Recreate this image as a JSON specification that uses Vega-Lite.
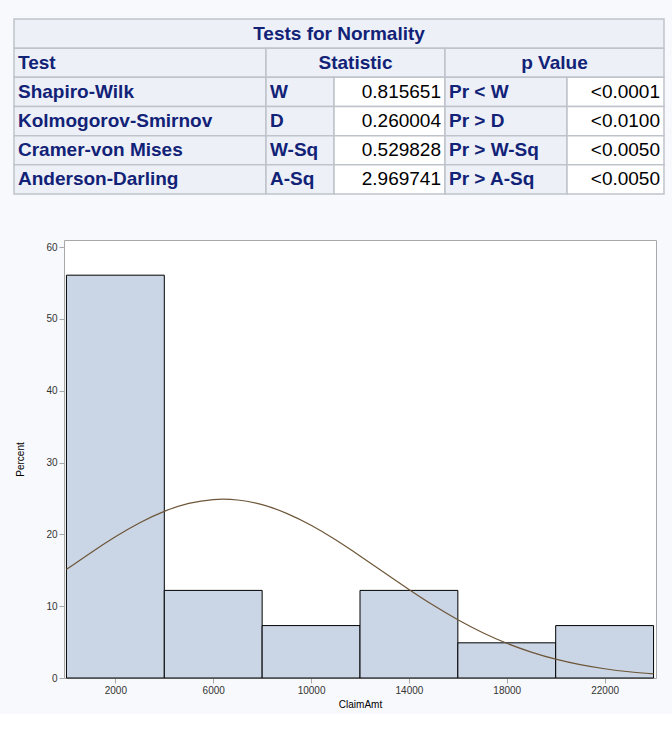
{
  "$schema": "https://vega.github.io/schema/vega-lite/v6.json",
  "background": "#F8F9FC",
  "padding": {"left": 13, "top": 18, "right": 8, "bottom": 4},
  "spacing": 44,
  "config": {"font": "Liberation Sans", "view": {"stroke": null}},
  "vconcat": [
    {
      "width": 592,
      "height": 175,
      "data": {
        "values": [
          {"row": 0, "col": 0, "c0": 0, "c1": 650, "text": "Tests for Normality"},
          {"row": 1, "col": 0, "c0": 0, "c1": 252, "text": "Test"},
          {"row": 1, "col": 1, "c0": 252, "c1": 431, "text": "Statistic"},
          {"row": 1, "col": 3, "c0": 431, "c1": 650, "text": "p Value"},
          {"row": 2, "col": 0, "c0": 0, "c1": 252, "text": "Shapiro-Wilk"},
          {"row": 2, "col": 1, "c0": 252, "c1": 320, "text": "W"},
          {"row": 2, "col": 2, "c0": 320, "c1": 431, "text": "0.815651"},
          {"row": 2, "col": 3, "c0": 431, "c1": 553, "text": "Pr < W"},
          {"row": 2, "col": 4, "c0": 553, "c1": 650, "text": "<0.0001"},
          {"row": 3, "col": 0, "c0": 0, "c1": 252, "text": "Kolmogorov-Smirnov"},
          {"row": 3, "col": 1, "c0": 252, "c1": 320, "text": "D"},
          {"row": 3, "col": 2, "c0": 320, "c1": 431, "text": "0.260004"},
          {"row": 3, "col": 3, "c0": 431, "c1": 553, "text": "Pr > D"},
          {"row": 3, "col": 4, "c0": 553, "c1": 650, "text": "<0.0100"},
          {"row": 4, "col": 0, "c0": 0, "c1": 252, "text": "Cramer-von Mises"},
          {"row": 4, "col": 1, "c0": 252, "c1": 320, "text": "W-Sq"},
          {"row": 4, "col": 2, "c0": 320, "c1": 431, "text": "0.529828"},
          {"row": 4, "col": 3, "c0": 431, "c1": 553, "text": "Pr > W-Sq"},
          {"row": 4, "col": 4, "c0": 553, "c1": 650, "text": "<0.0050"},
          {"row": 5, "col": 0, "c0": 0, "c1": 252, "text": "Anderson-Darling"},
          {"row": 5, "col": 1, "c0": 252, "c1": 320, "text": "A-Sq"},
          {"row": 5, "col": 2, "c0": 320, "c1": 431, "text": "2.969741"},
          {"row": 5, "col": 3, "c0": 431, "c1": 553, "text": "Pr > A-Sq"},
          {"row": 5, "col": 4, "c0": 553, "c1": 650, "text": "<0.0050"}
        ]
      },
      "transform": [{"calculate": "(datum.c0 + datum.c1) / 2", "as": "mid"}],
      "encoding": {
        "y": {"field": "row", "type": "ordinal", "axis": null, "scale": {"paddingInner": 0, "paddingOuter": 0}}
      },
      "layer": [
        {
          "mark": {"type": "rect", "stroke": "#BFC3CB", "strokeWidth": 1.5},
          "encoding": {
            "x": {"field": "c0", "type": "quantitative", "axis": null, "scale": {"domain": [50, 642], "nice": false, "zero": false}},
            "x2": {"field": "c1"},
            "fill": {
              "condition": {"test": "datum.row > 1 && (datum.col == 2 || datum.col == 4)", "value": "#FFFFFF"},
              "value": "#EDF0F7"
            }
          }
        },
        {
          "transform": [{"filter": "datum.row < 2 && datum.col > 0 || datum.row == 0"}],
          "mark": {"type": "text", "align": "center", "fontSize": 19, "fontWeight": "bold", "color": "#112277"},
          "encoding": {
            "x": {"field": "mid", "type": "quantitative"},
            "text": {"field": "text"}
          }
        },
        {
          "transform": [{"filter": "datum.row > 0 && (datum.col == 0 || datum.col == 1 || datum.col == 3) && !(datum.row == 1 && datum.col > 0)"}],
          "mark": {"type": "text", "align": "left", "dx": 4, "fontSize": 19, "fontWeight": "bold", "color": "#112277"},
          "encoding": {
            "x": {"field": "c0", "type": "quantitative"},
            "text": {"field": "text"}
          }
        },
        {
          "transform": [{"filter": "datum.row > 1 && (datum.col == 2 || datum.col == 4)"}],
          "mark": {"type": "text", "align": "right", "dx": -4, "fontSize": 19, "color": "#000000"},
          "encoding": {
            "x": {"field": "c1", "type": "quantitative"},
            "text": {"field": "text"}
          }
        }
      ]
    },
    {
      "width": 592,
      "height": 438,
      "view": {"stroke": "#A8A8A8", "fill": "#FFFFFF"},
      "layer": [
        {
          "data": {
            "values": [
              {"start": 0, "end": 4000, "pct": 56.1},
              {"start": 4000, "end": 8000, "pct": 12.2},
              {"start": 8000, "end": 12000, "pct": 7.3},
              {"start": 12000, "end": 16000, "pct": 12.2},
              {"start": 16000, "end": 20000, "pct": 4.9},
              {"start": 20000, "end": 24000, "pct": 7.3}
            ]
          },
          "mark": {"type": "rect", "fill": "#CAD5E5", "stroke": "#000000", "strokeWidth": 1},
          "encoding": {
            "x": {
              "field": "start", "type": "quantitative", "title": "ClaimAmt",
              "scale": {"domain": [-100, 24100], "nice": false, "zero": false},
              "axis": {"values": [2000, 6000, 10000, 14000, 18000, 22000], "format": "d", "grid": false, "labelFontSize": 10, "titleFontSize": 10, "titleFontWeight": "normal", "labelColor": "#333333", "tickColor": "#A8A8A8", "domain": false}
            },
            "x2": {"field": "end"},
            "y": {
              "field": "pct", "type": "quantitative", "title": "Percent",
              "scale": {"domain": [0, 61], "nice": false},
              "axis": {"values": [0, 10, 20, 30, 40, 50, 60], "grid": false, "labelFontSize": 10, "titleFontSize": 10, "titleFontWeight": "normal", "labelColor": "#333333", "tickColor": "#A8A8A8", "domain": false, "titlePadding": 20}
            },
            "y2": {"datum": 0}
          }
        },
        {
          "data": {
            "values": [
              {"amt": 0, "pct": 15.12}, {"amt": 1000, "pct": 17.46}, {"amt": 2000, "pct": 19.67},
              {"amt": 3000, "pct": 21.63}, {"amt": 4000, "pct": 23.21}, {"amt": 5000, "pct": 24.31},
              {"amt": 6000, "pct": 24.85}, {"amt": 7000, "pct": 24.79}, {"amt": 8000, "pct": 24.14},
              {"amt": 9000, "pct": 22.93}, {"amt": 10000, "pct": 21.27}, {"amt": 11000, "pct": 19.25},
              {"amt": 12000, "pct": 17.0}, {"amt": 13000, "pct": 14.65}, {"amt": 14000, "pct": 12.33},
              {"amt": 15000, "pct": 10.12}, {"amt": 16000, "pct": 8.11}, {"amt": 17000, "pct": 6.34},
              {"amt": 18000, "pct": 4.84}, {"amt": 19000, "pct": 3.61}, {"amt": 20000, "pct": 2.62},
              {"amt": 21000, "pct": 1.86}, {"amt": 22000, "pct": 1.29}, {"amt": 23000, "pct": 0.87},
              {"amt": 24000, "pct": 0.57}
            ]
          },
          "mark": {"type": "line", "color": "#6E5638", "strokeWidth": 1.2, "interpolate": "natural"},
          "encoding": {
            "x": {"field": "amt", "type": "quantitative"},
            "y": {"field": "pct", "type": "quantitative"}
          }
        }
      ]
    }
  ]
}
